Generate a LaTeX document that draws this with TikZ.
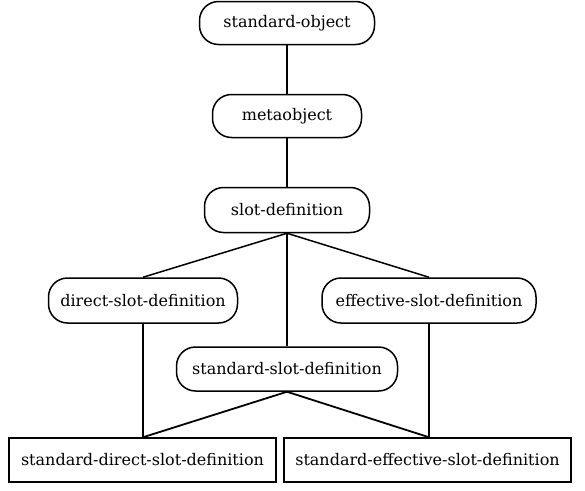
\documentclass[tikz,border=0pt]{standalone}
\usepackage{fontspec}
\setmainfont{DejaVu Serif}
\begin{document}
\begin{tikzpicture}[x=1pt,y=1pt,
  cls/.style={draw, line width=1.5pt, rounded corners=19pt, inner sep=0pt, minimum height=43pt, font=\fontsize{16}{19}\selectfont},
  box/.style={draw, line width=1.5pt, inner sep=0pt, minimum height=44pt, font=\fontsize{16}{19}\selectfont},
  link/.style={line width=1.5pt},
  link2/.style={line width=1.8pt}]
\useasboundingbox (0,0) rectangle (585,-490);
\node[cls, minimum width=175pt] (so) at (287,-23) {standard-object};
\node[cls, minimum width=149pt] (mo) at (287,-116) {metaobject};
\node[cls, minimum width=165pt, minimum height=45pt] (sd) at (287,-210) {slot-definition};
\node[cls, minimum width=189pt, minimum height=45pt] (dsd) at (143,-300.5) {direct-slot-definition};
\node[cls, minimum width=214pt, minimum height=45pt] (esd) at (429,-300.5) {effective-slot-definition};
\node[cls, minimum width=221pt, minimum height=44pt] (ssd) at (287,-369) {standard-slot-definition};
\node[box, minimum width=267pt] (sdsd) at (142.5,-460) {standard-direct-slot-definition};
\node[box, minimum width=287pt] (sesd) at (427.5,-460) {standard-effective-slot-definition};
\draw[link] (so.south) -- (mo.north);
\draw[link] (mo.south) -- (sd.north);
\draw[link] (sd.south) -- (dsd.north);
\draw[link] (sd.south) -- (esd.north);
\draw[link] (sd.south) -- (ssd.north);
\draw[link] (dsd.south) -- (sdsd.north -| dsd.south);
\draw[link] (esd.south) -- (sesd.north -| esd.south);
\draw[link2] (ssd.south) -- (sdsd.north -| dsd.south);
\draw[link2] (ssd.south) -- (sesd.north -| esd.south);
\end{tikzpicture}
\end{document}
